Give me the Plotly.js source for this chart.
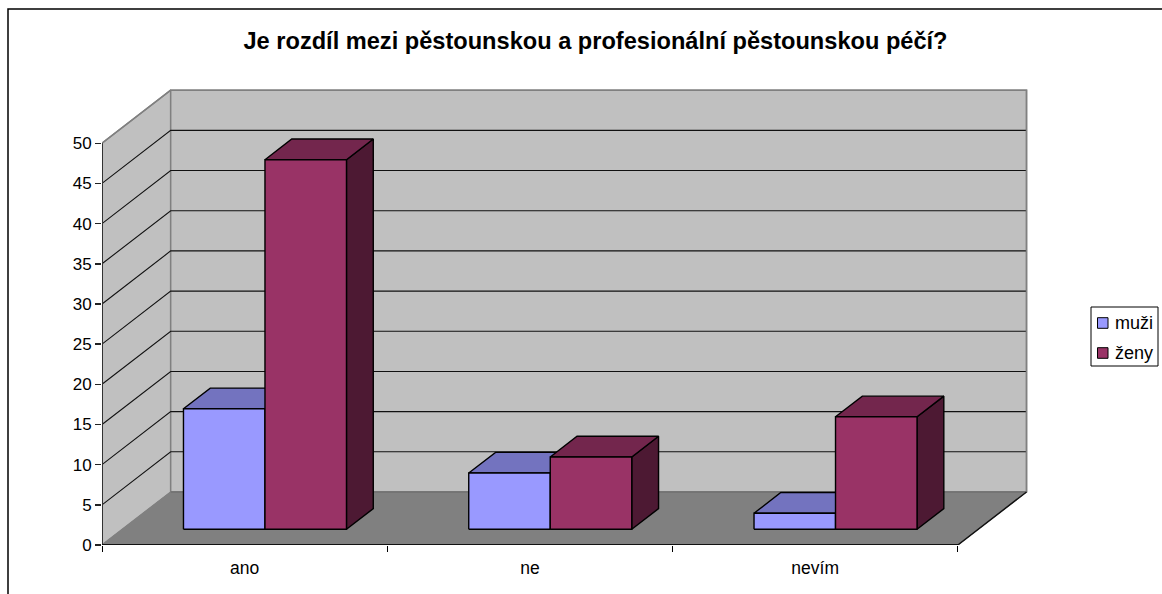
<!DOCTYPE html>
<html><head><meta charset="utf-8">
<script src="https://cdn.plot.ly/plotly-3.0.1.min.js"></script>
<style>html,body{margin:0;padding:0;background:#fff}#c{width:1162px;height:594px}</style>
</head><body><div id="c"></div>
<script>
const categories = ['ano','ne','nevím'];
const seriesNames = ['muži','ženy'];
const muzi = [15,7,2];
const zeny = [46,9,14];
const yTicks = [0,5,10,15,20,25,30,35,40,45,50];
const titleText = 'Je rozdíl mezi pěstounskou a profesionální pěstounskou péčí?';
const frontColors = ['#9999FF','#993366'];
const topColors = ['#7373BF','#73264D'];
const sideColors = ['#4D4D80','#4D1933'];

const yMax = 50;
const depthX = 0.2408, depthY = 6.6;          // oblique projection of full depth, in axis units
const barW = 0.2857, barGap = 0.2143;         // category fractions
const d0 = 0.296, d1 = 0.686;                 // bar depth span
const P = (c,v,d) => [c + d*depthX, v + d*depthY];
const nCat = categories.length;
const traces = [];
function poly(pts, fill, lineColor, lw){
  traces.push({type:'scatter',mode:'lines',x:pts.map(p=>p[0]).concat(pts[0][0]),y:pts.map(p=>p[1]).concat(pts[0][1]),
    fill:'toself',fillcolor:fill,line:{color:lineColor,width:lw},showlegend:false,hoverinfo:'skip'});
}
function line(xs,ys,color,w){
  traces.push({type:'scatter',mode:'lines',x:xs,y:ys,line:{color:color,width:w},showlegend:false,hoverinfo:'skip',connectgaps:false});
}
// walls and floor
poly([P(0,0,0),P(0,yMax,0),P(0,yMax,1),P(0,0,1)],'#C0C0C0','#808080',1.5);
poly([P(0,0,1),P(0,yMax,1),P(nCat,yMax,1),P(nCat,0,1)],'#C0C0C0','#808080',1.5);
poly([P(0,0,0),P(0,0,1),P(nCat,0,1),P(nCat,0,0)],'#808080','#808080',1);
// gridlines
const gx=[],gy=[];
yTicks.filter(t=>t>0).forEach(t=>{
  const a=P(0,t,0),b=P(0,t,1),c=P(nCat,t,1);
  if(t<yMax){gx.push(a[0],b[0],c[0],null);gy.push(a[1],b[1],c[1],null);}
});
line(gx,gy,'#111',1.1);
// wall top edge redraw, floor edges, axes
line([P(0,yMax,0)[0],P(0,yMax,1)[0],P(nCat,yMax,1)[0],P(nCat,0,1)[0]],[P(0,yMax,0)[1],P(0,yMax,1)[1],P(nCat,yMax,1)[1],P(nCat,0,1)[1]],'#808080',1.5);
line([P(0,0,1)[0],P(nCat,0,1)[0]],[P(0,0,1)[1],P(nCat,0,1)[1]],'#707070',1.5);
line([P(nCat,0,1)[0],P(nCat,0,0)[0],P(0,0,0)[0]],[P(nCat,0,1)[1],P(nCat,0,0)[1],P(0,0,0)[1]],'#111',1.5);
line([P(0,0,0)[0],P(0,0,0)[0]],[0,yMax],'#333',2);
line([0,nCat],[0,0],'#111',2);
// bars
categories.forEach((cat,i)=>{
  [muzi,zeny].forEach((vals,s)=>{
    const v=vals[i];
    const L=i+barGap+s*barW, R=L+barW;
    poly([P(R,0,d0),P(R,0,d1),P(R,v,d1),P(R,v,d0)],sideColors[s],'#000',1.4);
    poly([P(L,v,d0),P(L,v,d1),P(R,v,d1),P(R,v,d0)],topColors[s],'#000',1.4);
    poly([P(L,0,d0),P(L,v,d0),P(R,v,d0),P(R,0,d0)],frontColors[s],'#000',1.4);
  });
});

const fam='"Liberation Sans",Arial,sans-serif';
const font={family:fam,size:17,color:'#000'};
const W=930,H=458,ML=102,MT=87;
const px=x=>(x-ML)/W, py=y=>(MT+H-y)/H;
// legend (box, swatches, labels)
const legendRows=[323,353];
const shapes=[
  {type:'rect',xref:'paper',yref:'paper',x0:px(8),x1:1.4,y0:-0.5,y1:py(9),line:{color:'#000',width:1.5},fillcolor:'rgba(0,0,0,0)',layer:'below'},
  {type:'rect',xref:'paper',yref:'paper',x0:px(1091),x1:px(1158),y0:py(366),y1:py(307),line:{color:'#000',width:1},fillcolor:'#fff',layer:'above'}
];
const annotations=[];
seriesNames.forEach((n,s)=>{
  const yc=legendRows[s];
  shapes.push({type:'rect',xref:'paper',yref:'paper',x0:px(1097.5),x1:px(1108),y0:py(yc+5.3),y1:py(yc-5.3),line:{color:'#000',width:1},fillcolor:frontColors[s],layer:'above'});
  annotations.push({text:n,xref:'paper',yref:'paper',x:px(1113),y:py(yc),xanchor:'left',yanchor:'middle',showarrow:false,font:{family:fam,size:18,color:'#000'}});
});
const layout={
  width:1162,height:594,paper_bgcolor:'#fff',plot_bgcolor:'rgba(0,0,0,0)',font:font,hovermode:false,showlegend:false,
  margin:{l:ML,r:1162-ML-W,t:MT,b:594-MT-H,pad:0,autoexpand:false},
  title:{text:titleText,x:595.5/1162,xanchor:'center',xref:'container',y:1-41/594,yanchor:'middle',yref:'container',
    font:{family:fam,size:23.6,color:'#000',weight:700}},
  xaxis:{range:[0,3.26],tickmode:'array',tickvals:categories.map((c,i)=>i+0.5),ticktext:categories,ticks:'',ticklen:0,
    showgrid:false,zeroline:false,showline:false,fixedrange:true,ticklabelstandoff:10,tickfont:{family:fam,size:17.5,color:'#000'},
    minor:{tickmode:'array',tickvals:[0,1,2,3],ticks:'outside',ticklen:6,tickwidth:1,tickcolor:'#000',showgrid:false}},
  yaxis:{range:[0,57],tickmode:'array',tickvals:yTicks,ticks:'outside',ticklen:6,tickwidth:1.5,tickcolor:'#222',
    showgrid:false,zeroline:false,showline:false,fixedrange:true,tickfont:font},
  shapes:shapes,annotations:annotations
};
Plotly.newPlot('c',traces,layout,{displayModeBar:false,staticPlot:true});
</script></body></html>
